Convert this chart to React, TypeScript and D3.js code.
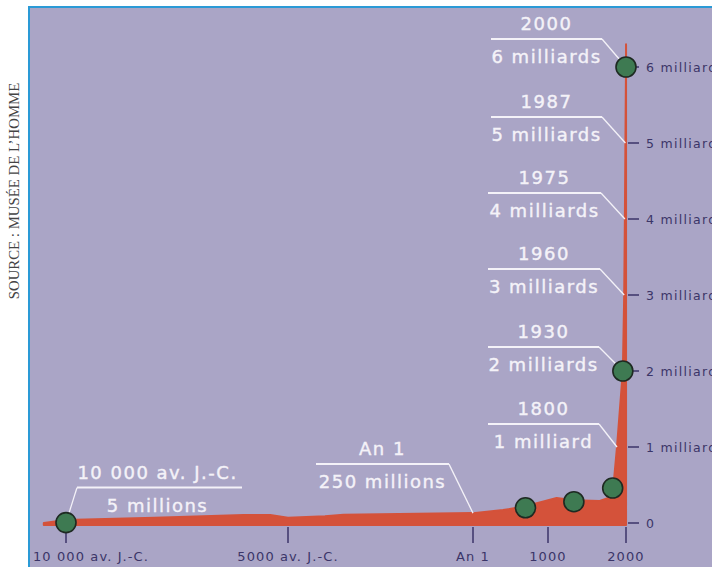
import React from "react";
import * as d3 from "d3";

// Population curve (years, billions)
const popYears = [-10500, -10000, -8000, -6000, -5400, -5000, -4000, -3500, -2000, 1, 400, 700, 1100, 1300, 1600, 1700, 1750, 1800, 1930, 1960, 1975, 1987, 2000, 2001];
const popValues = [0, 0.04, 0.07, 0.105, 0.105, 0.07, 0.09, 0.11, 0.12, 0.13, 0.17, 0.22, 0.33, 0.3, 0.29, 0.33, 0.38, 1.0, 2.0, 3.0, 4.0, 5.0, 6.0, 6.3];

// Axis ticks
const xTickValues = [-10000, -5000, 1, 1000, 2000];
const xTickLabels = ["10 000 av. J.-C.", "5000 av. J.-C.", "An 1", "1000", "2000"];
const yTickValues = [0, 1, 2, 3, 4, 5, 6];
const yTickLabels = ["0", "1 milliard", "2 milliards", "3 milliards", "4 milliards", "5 milliards", "6 milliards"];

// Annotations
const annoYears = [-10000, 1, 1800, 1930, 1960, 1975, 1987, 2000];
const annoValues = [0.005, 0.13, 1, 2, 3, 4, 5, 6];
const annoTop = ["10 000 av. J.-C.", "An 1", "1800", "1930", "1960", "1975", "1987", "2000"];
const annoBottom = ["5 millions", "250 millions", "1 milliard", "2 milliards", "3 milliards", "4 milliards", "5 milliards", "6 milliards"];

// Green markers
const dotYears = [-10000, 700, 1300, 1750, 1930, 2000];
const dotValues = [0.005, 0.2, 0.28, 0.46, 2, 6];

// Layout of annotation boxes (line left, line right, vertical offset, corner side)
const annoLayout = [
  { x1: 77, x2: 242, dy: -35, corner: "left" },
  { x1: 316, x2: 449, dy: -49, corner: "right" },
  { x1: 488, x2: 599, dy: -23, corner: "right" },
  { x1: 488, x2: 599, dy: -24, corner: "right" },
  { x1: 488, x2: 600, dy: -26, corner: "right" },
  { x1: 488, x2: 601, dy: -26, corner: "right" },
  { x1: 491, x2: 602, dy: -26, corner: "right" },
  { x1: 491, x2: 602, dy: -28, corner: "right" },
];

const W = 712;
const H = 567;
const BG = "#aaa5c6";
const RED = "#d4523a";
const AXIS = "#3b3568";
const WHITE = "#f4f2f8";
const SANS = "'DejaVu Sans', Verdana, sans-serif";

export default function App() {
  const x = d3.scaleLinear().domain([-10000, -5000, 1, 1000, 1800, 2000]).range([66, 288, 473, 548, 617, 626]);
  const y = d3.scaleLinear().domain([0, 6]).range([523, 67]);

  const area = d3
    .area<number>()
    .x((_d, i) => x(popYears[i]))
    .y0(y(0) + 2)
    .y1((d) => y(d));
  const areaPath = area(popValues) || "";

  return (
    <svg width={W} height={H} style={{ position: "absolute", left: 0, top: 0, background: "#ffffff" }}>
      <rect x={29} y={7} width={W} height={H} fill={BG} />
      <line x1={29} y1={6} x2={29} y2={H} stroke="#2a9ad6" strokeWidth={2} />
      <line x1={28} y1={7} x2={W} y2={7} stroke="#2a9ad6" strokeWidth={2} />

      <text
        transform="translate(19,191) rotate(-90)"
        textAnchor="middle"
        fontFamily="'Liberation Serif', 'Times New Roman', serif"
        fontSize={14.8}
        fill="#444"
      >
        SOURCE : MUSÉE DE L’HOMME
      </text>

      <path d={areaPath} fill={RED} stroke={RED} strokeWidth={2} strokeLinejoin="round" />

      {/* x axis ticks */}
      {xTickValues.map((v, i) => (
        <g key={"xt" + i}>
          <line x1={x(v)} x2={x(v)} y1={527} y2={543} stroke={AXIS} strokeWidth={1.5} />
          <text
            x={i === 0 ? 33 : x(v)}
            y={561}
            textAnchor={i === 0 ? "start" : "middle"}
            fontFamily={SANS}
            fontSize={13}
            letterSpacing={1.1}
            fill={AXIS}
          >
            {xTickLabels[i]}
          </text>
        </g>
      ))}

      {/* y axis ticks */}
      {yTickValues.map((v, i) => (
        <g key={"yt" + i}>
          <line x1={628} x2={639} y1={y(v)} y2={y(v)} stroke={AXIS} strokeWidth={1.5} />
          <text x={646} y={y(v) + 4.5} fontFamily={SANS} fontSize={12.5} letterSpacing={1.3} fill={AXIS}>
            {yTickLabels[i]}
          </text>
        </g>
      ))}

      {/* annotations */}
      {annoYears.map((yr, i) => {
        const L = annoLayout[i];
        const px = x(yr);
        const py = y(annoValues[i]);
        const ly = py + L.dy;
        const cx = L.x1 + (L.x2 - L.x1) / 2 + (i === 0 ? -2 : 0);
        const cornerX = L.corner === "left" ? L.x1 : L.x2;
        return (
          <g key={"an" + i}>
            <line x1={L.x1} x2={L.x2} y1={ly} y2={ly} stroke={WHITE} strokeWidth={2} />
            <line x1={cornerX} y1={ly} x2={px} y2={py} stroke={WHITE} strokeWidth={1.3} />
            <text x={cx} y={ly - 9} textAnchor="middle" fontFamily={SANS} fontSize={18} letterSpacing={1.5} fill={WHITE} stroke={WHITE} strokeWidth={0.4}>
              {annoTop[i]}
            </text>
            <text x={cx} y={ly + 24} textAnchor="middle" fontFamily={SANS} fontSize={18} letterSpacing={1.5} fill={WHITE} stroke={WHITE} strokeWidth={0.4}>
              {annoBottom[i]}
            </text>
          </g>
        );
      })}

      {/* green markers */}
      {dotYears.map((yr, i) => (
        <circle key={"d" + i} cx={x(yr)} cy={y(dotValues[i])} r={10} fill="#3e7a52" stroke="#1e2a22" strokeWidth={1.6} />
      ))}
    </svg>
  );
}
